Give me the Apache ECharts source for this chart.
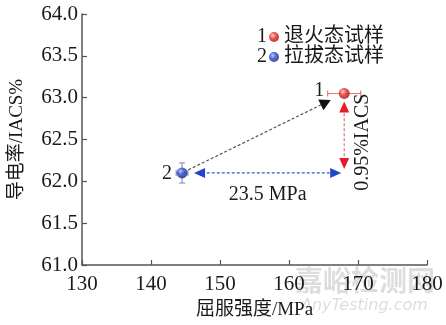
<!DOCTYPE html>
<html>
<head>
<meta charset="utf-8">
<script src="https://cdn.jsdelivr.net/npm/echarts@6/dist/echarts.min.js"></script>
<style>
  html, body { margin: 0; padding: 0; background: #fff; }
  #chart { width: 446px; height: 325px; }
</style>
</head>
<body>
<div id="chart"></div>
<script>
// Sample states and their measured properties
const sampleIds = ['1', '2'];
const sampleNames = ['退火态试样', '拉拔态试样'];
const strength = [168, 144.5];          // yield strength, MPa
const conductivity = [63.05, 62.1];     // conductivity, %IACS
const strengthErr = [2.4, 0.85];
const conductivityErr = [0, 0.12];
const xTicks = [130, 140, 150, 160, 170, 180];
const yTicks = [61.0, 61.5, 62.0, 62.5, 63.0, 63.5, 64.0];

const FONT = "'Liberation Serif', 'Noto Sans CJK SC', serif";

function sphere(light, mid, dark) {
  return {
    type: 'radial', x: 0.38, y: 0.35, r: 0.7,
    colorStops: [
      { offset: 0, color: light },
      { offset: 0.45, color: mid },
      { offset: 1, color: dark }
    ]
  };
}
const pointColors = [sphere('#ffc4c4', '#e52a2a', '#9e0a0a'), sphere('#b4c0ff', '#2944c4', '#10207a')];
const errColors = ['#de7c7c', '#8c98cc'];

// Arrows between the two states (built from the sample values)
const gap = (strength[0] - strength[1]).toFixed(1);
const rise = (conductivity[0] - conductivity[1]).toFixed(2);
const arrows = [
  { from: [strength[1], conductivity[1]], to: [strength[0], conductivity[0]],
    insetA: 7, insetB: 15, heads: [false, true], line: '#555', head: '#111', len: 11, half: 6 },
  { from: [strength[1], conductivity[1]], to: [strength[0], conductivity[1]],
    insetA: 12, insetB: 3, heads: [true, true], line: '#3a58c8', head: '#2146c8', len: 11, half: 5 },
  { from: [strength[0], conductivity[1]], to: [strength[0], conductivity[0]],
    insetA: 4, insetB: 8, heads: [true, true], line: '#e4707c', head: '#e81c26', len: 11, half: 5 }
];

function arrowHead(tip, d, len, half, fill) {
  const bx = tip[0] - d[0] * len, by = tip[1] - d[1] * len;
  const nx = -d[1], ny = d[0];
  return {
    type: 'polygon',
    shape: { points: [tip, [bx + nx * half, by + ny * half], [bx - nx * half, by - ny * half]] },
    style: { fill: fill }
  };
}

const chart = echarts.init(document.getElementById('chart'), null, { renderer: 'canvas' });

chart.setOption({
  animation: false,
  backgroundColor: '#fff',
  grid: { left: 67, right: 19, top: 14, bottom: 49, containLabel: false },
  legend: {
    orient: 'vertical', left: 264, top: 22,
    itemWidth: 10, itemHeight: 10, itemGap: 0,
    data: sampleNames.map(n => ({ name: n, icon: 'circle' })),
    textStyle: { fontFamily: FONT, fontSize: 20, lineHeight: 20, color: '#1a1a1a' }
  },
  xAxis: {
    type: 'value', min: xTicks[0], max: xTicks[xTicks.length - 1], interval: 10,
    name: '屈服强度/MPa', nameLocation: 'middle', nameGap: 36,
    nameTextStyle: { fontFamily: FONT, fontSize: 19, color: '#1a1a1a' },
    axisLine: { onZero: false, lineStyle: { color: '#555', width: 1.5 } },
    axisTick: { inside: true, length: 5, lineStyle: { color: '#555', width: 1.2 } },
    axisLabel: { fontFamily: FONT, fontSize: 21, color: '#1a1a1a', margin: 9 },
    splitLine: { show: false }
  },
  yAxis: {
    type: 'value', min: yTicks[0], max: yTicks[yTicks.length - 1], interval: 0.5,
    name: '导电率/IACS%', nameLocation: 'middle', nameGap: 55,
    nameTextStyle: { fontFamily: FONT, fontSize: 19, color: '#1a1a1a' },
    axisLine: { onZero: false, lineStyle: { color: '#555', width: 1.5 } },
    axisTick: { inside: true, length: 5, lineStyle: { color: '#555', width: 1.2 } },
    axisLabel: { fontFamily: FONT, fontSize: 21, color: '#1a1a1a', margin: 4,
      formatter: v => v.toFixed(1) },
    splitLine: { show: false }
  },
  graphic: [
    { type: 'text', left: 257, top: 27, z: 10,
      style: { text: sampleIds[0], font: "20px " + FONT, fill: '#1a1a1a' } },
    { type: 'text', left: 257, top: 47, z: 10,
      style: { text: sampleIds[1], font: "20px " + FONT, fill: '#1a1a1a' } },
    { type: 'text', left: 295, top: 266, z: 0, silent: true,
      style: { text: '嘉峪检测网', font: "bold 28px 'Noto Sans CJK SC'", fill: 'rgba(170,170,170,0.4)' } },
    { type: 'text', left: 301, top: 298, z: 0, silent: true,
      style: { text: 'AnyTesting.com', font: "italic 16px 'DejaVu Sans'", fill: 'rgba(170,170,170,0.4)' } }
  ],
  series: [
    {
      type: 'custom', name: 'errorbars', z: 2, silent: true,
      data: strength.map((s, i) => [s, conductivity[i], strengthErr[i], conductivityErr[i]]),
      renderItem(params, api) {
        const i = params.dataIndex;
        const x = api.value(0), y = api.value(1), ex = api.value(2), ey = api.value(3);
        const st = { stroke: errColors[i], lineWidth: 1.2 };
        const cap = 3;
        const kids = [];
        if (ex > 0) {
          const l = api.coord([x - ex, y]), r = api.coord([x + ex, y]);
          kids.push({ type: 'line', shape: { x1: l[0], y1: l[1], x2: r[0], y2: r[1] }, style: st });
          kids.push({ type: 'line', shape: { x1: l[0], y1: l[1] - cap, x2: l[0], y2: l[1] + cap }, style: st });
          kids.push({ type: 'line', shape: { x1: r[0], y1: r[1] - cap, x2: r[0], y2: r[1] + cap }, style: st });
        }
        if (ey > 0) {
          const t = api.coord([x, y + ey]), b = api.coord([x, y - ey]);
          kids.push({ type: 'line', shape: { x1: t[0], y1: t[1], x2: b[0], y2: b[1] }, style: st });
          kids.push({ type: 'line', shape: { x1: t[0] - cap, y1: t[1], x2: t[0] + cap, y2: t[1] }, style: st });
          kids.push({ type: 'line', shape: { x1: b[0] - cap, y1: b[1], x2: b[0] + cap, y2: b[1] }, style: st });
        }
        return { type: 'group', children: kids };
      }
    },
    {
      type: 'custom', name: 'arrows', z: 3, silent: true,
      data: arrows.map((a, i) => [a.from[0], a.from[1], a.to[0], a.to[1], i]),
      renderItem(params, api) {
        const a = arrows[api.value(4)];
        const p0 = api.coord([api.value(0), api.value(1)]);
        const p1 = api.coord([api.value(2), api.value(3)]);
        const dx = p1[0] - p0[0], dy = p1[1] - p0[1];
        const L = Math.hypot(dx, dy);
        const d = [dx / L, dy / L];
        const s = [p0[0] + d[0] * a.insetA, p0[1] + d[1] * a.insetA];
        const e = [p1[0] - d[0] * a.insetB, p1[1] - d[1] * a.insetB];
        const ls = a.heads[0] ? [s[0] + d[0] * a.len * 0.7, s[1] + d[1] * a.len * 0.7] : s;
        const le = a.heads[1] ? [e[0] - d[0] * a.len * 0.7, e[1] - d[1] * a.len * 0.7] : e;
        const kids = [{
          type: 'line', shape: { x1: ls[0], y1: ls[1], x2: le[0], y2: le[1] },
          style: { stroke: a.line, lineWidth: 1.2, lineDash: [3, 2] }
        }];
        if (a.heads[1]) kids.push(arrowHead(e, d, a.len, a.half, a.head));
        if (a.heads[0]) kids.push(arrowHead(s, [-d[0], -d[1]], a.len, a.half, a.head));
        return { type: 'group', children: kids };
      }
    },
    {
      type: 'custom', name: 'notes', z: 4, silent: true,
      data: [0],
      renderItem(params, api) {
        const p1 = api.coord([strength[0], conductivity[0]]);
        const p2 = api.coord([strength[1], conductivity[1]]);
        const corner = api.coord([strength[0], conductivity[1]]);
        const txt = (t, x, y, rot) => ({
          type: 'text', x: x, y: y, rotation: rot || 0,
          style: { text: t, font: "20px " + FONT, fill: '#1a1a1a', align: 'center', verticalAlign: 'middle' }
        });
        return {
          type: 'group',
          children: [
            txt(sampleIds[0], p1[0] - 25, p1[1] - 3),
            txt(sampleIds[1], p2[0] - 15, p2[1] + 1),
            txt(gap + ' MPa', (p2[0] + 12 + corner[0] - 3) / 2, p2[1] + 22),
            txt(rise + '%IACS', corner[0] + 19, (corner[1] + p1[1]) / 2 + 9, Math.PI / 2)
          ]
        };
      }
    },
    {
      type: 'scatter', name: sampleNames[0], z: 5,
      data: [[strength[0], conductivity[0]]],
      symbol: 'circle', symbolSize: 11,
      itemStyle: { color: pointColors[0] }
    },
    {
      type: 'scatter', name: sampleNames[1], z: 5,
      data: [[strength[1], conductivity[1]]],
      symbol: 'circle', symbolSize: 11,
      itemStyle: { color: pointColors[1] }
    }
  ]
});
</script>
</body>
</html>
